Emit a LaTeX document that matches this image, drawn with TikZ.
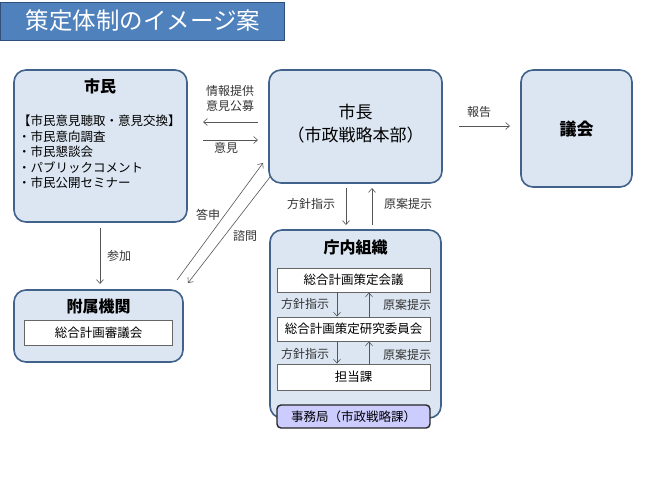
\documentclass[tikz,border=0pt]{standalone}
\usepackage{fontspec}
\setmainfont{Noto Sans CJK JP}
\usetikzlibrary{arrows.meta}
\definecolor{boxfill}{HTML}{DCE6F2}
\definecolor{boxdraw}{HTML}{41628A}
\definecolor{titlefill}{HTML}{4F81BD}
\definecolor{titledraw}{HTML}{2F4F7A}
\definecolor{lav}{HTML}{CCCCFF}
\definecolor{arr}{HTML}{555555}
\begin{document}
\begin{tikzpicture}[x=1pt,y=-1pt,
  bigbox/.style={draw=boxdraw,line width=1.6pt,fill=boxfill,rounded corners=12pt},
  inbox/.style={draw=gray!80!black,line width=0.8pt,fill=white,minimum height=24pt,minimum width=153pt,inner sep=0pt,font=\fontsize{12.5}{14}\selectfont},
  lbl/.style={font=\fontsize{12}{14}\selectfont,inner sep=1pt,text=black!80},
  ttl/.style={font=\fontsize{16}{18}\selectfont\bfseries},
  conn/.style={draw=arr,line width=0.6pt,-{Straight Barb[length=4pt,width=7pt]}},
  every node/.style={text=black}]
\useasboundingbox (0,0) rectangle (650,488);
\fill[white] (0,0) rectangle (650,488);
% title
\node[draw=titledraw,line width=1pt,fill=titlefill,minimum width=284pt,minimum height=38pt,anchor=north west,inner sep=0pt] (title) at (0,2) {};
\node[text=white,font=\fontsize{23.5}{26}\selectfont,anchor=west] (titletext) at (22,21) {策定体制のイメージ案};
% main boxes
\draw[bigbox] (14,70) rectangle (187,222);
\node (shimin) at (100,70) {};
\node[ttl] (shimint) at (100,86) {市民};
\node[anchor=north west,align=left,font=\fontsize{12.5}{15.5}\selectfont,inner sep=0pt] (shiminlist) at (18,115) {【市民意見聴取・意見交換】\\・市民意向調査\\・市民懇談会\\・パブリックコメント\\・市民公開セミナー};
\draw[bigbox] (269,70) rectangle (442,183);
\node[align=center,font=\fontsize{17}{23}\selectfont] (shicho) at (355.5,124) {市長\\（市政戦略本部）};
\draw[bigbox] (521,70) rectangle (632,187);
\node[ttl,font=\fontsize{17}{19}\selectfont\bfseries] (gikai) at (576.5,129) {議会};
\draw[bigbox] (14,290) rectangle (183,362);
\node[ttl] (fuzoku) at (98.5,306) {附属機関};
\node[inbox,minimum width=148pt,minimum height=25pt] (shingi) at (98.5,332.5) {総合計画審議会};
\draw[bigbox] (270,230) rectangle (441,418);
\node[ttl] (chonai) at (355.5,247) {庁内組織};
\node[inbox] (kaigi) at (353.5,280) {総合計画策定会議};
\node[inbox] (iinkai) at (353.5,329) {総合計画策定研究委員会};
\node[inbox,minimum height=26pt] (tanto) at (353.5,377) {担当課};
\node[draw=black!85,line width=1.4pt,fill=lav,rounded corners=4pt,minimum width=153pt,minimum height=23pt,inner sep=0pt,font=\fontsize{12.5}{14}\selectfont] (jimu) at (353.5,416.5) {事務局（市政戦略課）};
% coordinates for connectors
\coordinate (a1) at (258,122); \coordinate (a2) at (203,122);
\coordinate (b1) at (203,140); \coordinate (b2) at (258,140);
\coordinate (c1) at (459,126); \coordinate (c2) at (510,126);
\coordinate (d1) at (100,228); \coordinate (d2) at (100,284);
\coordinate (e1) at (177,280); \coordinate (e2) at (263,163);
\coordinate (f1) at (270,177); \coordinate (f2) at (188,283);
\coordinate (g1) at (346,188); \coordinate (g2) at (346,225);
\coordinate (h1) at (372,225); \coordinate (h2) at (372,188);
\draw[conn] (a1) -- (a2);
\draw[conn] (b1) -- (b2);
\draw[conn] (c1) -- (c2);
\draw[conn] (d1) -- (d2);
\draw[conn] (e1) -- (e2);
\draw[conn] (f1) -- (f2);
\draw[conn] (g1) -- (g2);
\draw[conn] (h1) -- (h2);
\draw[conn] (kaigi.south -| 337,0) -- (iinkai.north -| 337,0);
\draw[conn] (iinkai.north -| 369,0) -- (kaigi.south -| 369,0);
\draw[conn] (iinkai.south -| 337,0) -- (tanto.north -| 337,0);
\draw[conn] (tanto.north -| 369,0) -- (iinkai.south -| 369,0);
% labels
\node[lbl,align=left,font=\fontsize{12}{15}\selectfont] (l1) at (230,98) {情報提供\\意見公募};
\node[lbl] (l2) at (226,148) {意見};
\node[lbl] (l3) at (479,112) {報告};
\node[lbl] (l4) at (119,256) {参加};
\node[lbl] (l5) at (208,215) {答申};
\node[lbl] (l6) at (245,236) {諮問};
\node[lbl] (l7) at (311,204) {方針指示};
\node[lbl] (l8) at (408,204) {原案提示};
\node[lbl] (l9) at (305,304) {方針指示};
\node[lbl] (l10) at (407,305) {原案提示};
\node[lbl] (l11) at (305,354) {方針指示};
\node[lbl] (l12) at (407,355) {原案提示};
\end{tikzpicture}
\end{document}
